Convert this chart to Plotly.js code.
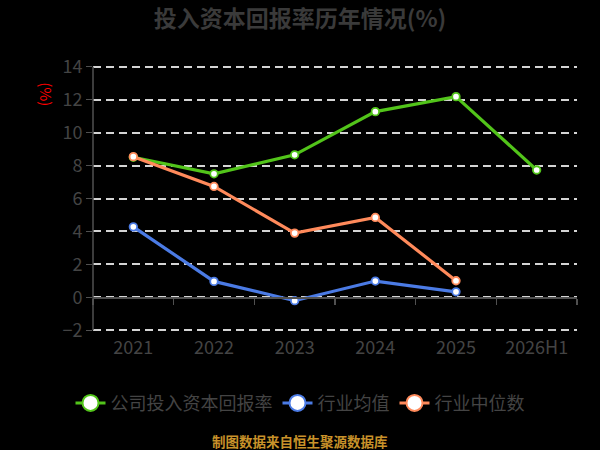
<!DOCTYPE html>
<html>
<head>
<meta charset="utf-8">
<script src="https://cdn.plot.ly/plotly-3.0.1.min.js"></script>
<style>html,body{margin:0;padding:0;background:#000;}#chart{width:600px;height:450px;}</style>
</head>
<body>
<div id="chart"></div>
<script>
const categories = ["2021", "2022", "2023", "2024", "2025", "2026H1"];
const companyROIC = [8.5, 7.5, 8.65, 11.27, 12.18, 7.73];
const industryAvg = [4.28, 0.97, -0.2, 0.99, 0.34];
const industryMedian = [8.54, 6.73, 3.9, 4.85, 1.01];
const seriesNames = ["公司投入资本回报率", "行业均值", "行业中位数"];
const seriesColors = ["#52c41a", "#4b7be5", "#ff8a5b"];
const seriesValues = [companyROIC, industryAvg, industryMedian];

const FONT = '"Noto Sans CJK SC", "Noto Sans", sans-serif';
const traces = [];
seriesValues.forEach((vals, i) => {
  traces.push({
    type: 'scatter', mode: 'lines+markers',
    x: categories.slice(0, vals.length), y: vals,
    name: seriesNames[i], showlegend: false,
    line: {color: seriesColors[i], width: 3.2},
    marker: {size: 7.5, color: '#ffffff', line: {color: seriesColors[i], width: 1.8}},
    hoverinfo: 'skip'
  });
});
seriesValues.forEach((vals, i) => {
  traces.push({
    type: 'scatter', mode: 'lines+markers',
    x: [null], y: [null], name: seriesNames[i], showlegend: true,
    line: {color: seriesColors[i], width: 3},
    marker: {size: 16, color: '#ffffff', line: {color: seriesColors[i], width: 2}}
  });
});

const yMin = -2.1, yMax = 14.1;
const layout = {
  width: 600, height: 450,
  paper_bgcolor: '#000000', plot_bgcolor: '#000000',
  margin: {l: 93, r: 23, t: 65, b: 118},
  font: {family: FONT, color: '#444444'},
  title: {text: '<b>投入资本回报率历年情况(%)</b>', font: {size: 23, color: '#3a3a3a', family: FONT},
          x: 0.5, xanchor: 'center', yref: 'container', y: 0.958, yanchor: 'middle'},
  xaxis: {
    type: 'category', categoryorder: 'array', categoryarray: categories,
    range: [-0.5, 5.5], anchor: 'free', position: (0 - yMin) / (yMax - yMin),
    showline: true, linecolor: '#505050', linewidth: 1.5,
    ticks: 'outside', tickson: 'boundaries', ticklen: 6, tickcolor: '#505050', tickwidth: 1.5,
    ticklabelstandoff: 34,
    showgrid: false, zeroline: false,
    tickfont: {size: 18, color: '#444444', family: FONT}
  },
  yaxis: {
    range: [yMin, yMax], dtick: 2, tick0: 0,
    showline: false,
    ticks: 'outside', ticklen: 6, tickcolor: '#505050', tickwidth: 1.5,
    showgrid: true, gridcolor: '#d4d4d4', griddash: '8px,5px', gridwidth: 2,
    zeroline: false,
    tickfont: {size: 18, color: '#444444', family: FONT}
  },
  shapes: [
    {type: 'line', xref: 'paper', yref: 'y', x0: 0, x1: 0, y0: -2, y1: 14,
     line: {color: '#505050', width: 1.5}}
  ],
  legend: {
    orientation: 'h', x: 0.5, xanchor: 'center', xref: 'container',
    yref: 'container', y: 0.104, yanchor: 'middle',
    font: {size: 18, color: '#444444', family: FONT},
    bgcolor: 'rgba(0,0,0,0)', itemsizing: 'trace'
  },
  annotations: [
    {text: '(%)', textangle: 90, xref: 'paper', yref: 'paper', x: -0.095, y: 0.89,
     xanchor: 'center', yanchor: 'middle',
     showarrow: false, font: {size: 15, color: '#ff0000', family: FONT}},
    {text: '<b>制图数据来自恒生聚源数据库</b>', xref: 'paper', yref: 'paper', x: (300 - 93) / 484, y: -0.41,
     xanchor: 'center', yanchor: 'middle', showarrow: false,
     font: {size: 13.5, color: '#c8922a', family: FONT}}
  ]
};
Plotly.newPlot('chart', traces, layout, {staticPlot: true, displayModeBar: false});
</script>
</body>
</html>
